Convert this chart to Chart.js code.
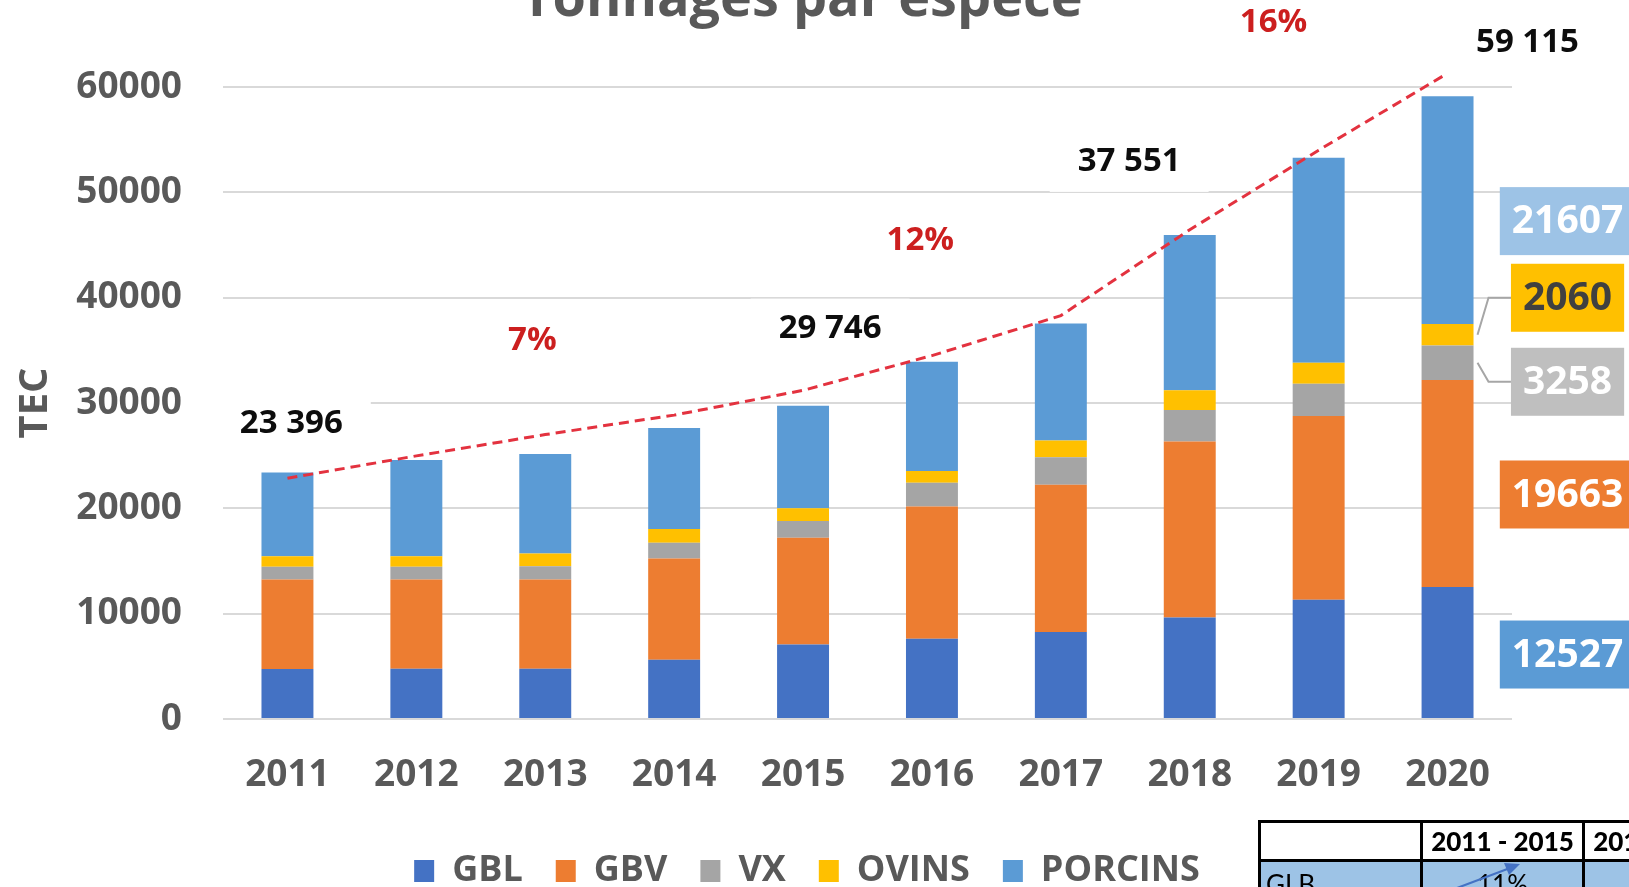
<!DOCTYPE html>
<html>
<head>
<meta charset="utf-8">
<title>Tonnages par espèce</title>
<script src="https://cdn.jsdelivr.net/npm/chart.js@4.4.1/dist/chart.umd.min.js"></script>
<style>
  body { margin: 0; background: #fff; overflow: hidden; }
  #wrap { position: relative; width: 1629px; height: 887px; overflow: hidden; }
  #c { position: absolute; left: 0; top: 0; }
  #tbl { position: absolute; left: 1258px; top: 820px; width: 486px; table-layout: fixed;
         border-collapse: collapse; font-family: Lato, sans-serif; color: #000; }
  #tbl td { border: 3px solid #000; height: 36px; padding: 0 5px; font-size: 26px;
            white-space: nowrap; overflow: hidden; }
  #tbl tr.h td { font-weight: 900; text-align: center; background: #fff; }
  #tbl tr.b td { background: #9dc3e6; vertical-align: top; padding-top: 6px; }
  #arrow { position: absolute; left: 1440px; top: 852px; }
</style>
</head>
<body>
<div id="wrap">
  <canvas id="c" width="1629" height="910"></canvas>
  <table id="tbl">
    <colgroup><col style="width:162px"><col style="width:162px"><col style="width:162px"></colgroup>
    <tr class="h"><td></td><td>2011 - 2015</td><td>2016 - 2020</td></tr>
    <tr class="b"><td>GLB</td><td style="text-align:center">11%</td><td></td></tr>
  </table>
  <svg id="arrow" width="100" height="40">
    <line x1="17" y1="36" x2="70" y2="16" stroke="#4472c4" stroke-width="2"/>
    <polygon points="80,12 64,11 69,23" fill="#4472c4"/>
  </svg>
</div>
<script>
const years = ['2011', '2012', '2013', '2014', '2015', '2016', '2017', '2018', '2019', '2020'];
const gbl = [4750, 4760, 4760, 5620, 7080, 7610, 8250, 9630, 11310, 12527];
const gbv = [8500, 8480, 8480, 9620, 10130, 12575, 13990, 16720, 17460, 19663];
const vx = [1200, 1210, 1270, 1490, 1590, 2240, 2610, 2985, 3060, 3258];
const ovins = [1000, 1010, 1210, 1300, 1210, 1120, 1600, 1865, 1980, 2060];
const porcins = [7946, 9140, 9430, 9590, 9736, 10370, 11101, 14740, 19480, 21607];
const trend = [22850, 24980, 27000, 28850, 31200, 34500, 38300, 46450, 54000, 61300];
const totalYears = ['2011', '2015', '2017', '2020'];
const growthLabels = ['7%', '12%', '16%'];

// where the annotations sit (category index, value)
const totalPos = [[0.03, 28050], [4.21, 37060], [6.53, 52890], [9.62, 64220]];
const growthPos = [[1.9, 35900], [4.91, 45400], [7.65, 66150]];

const seriesNames = ['GBL', 'GBV', 'VX', 'OVINS', 'PORCINS'];
const seriesData = [gbl, gbv, vx, ovins, porcins];
const colors = ['#4472c4', '#ed7d31', '#a5a5a5', '#ffc000', '#5b9bd5'];
const labelBoxColors = ['#5b9bd5', '#ed7d31', '#bfbfbf', '#ffc000', '#9dc3e6'];
const labelTextColors = ['#fff', '#fff', '#fff', '#404040', '#fff'];
const labelOffsets = [2, 11, 19, -37, 11];

const FONT = '"Open Sans", sans-serif';
const fmt = n => String(n).replace(/\B(?=(\d{3})+(?!\d))/g, ' ');
const totalOf = i => seriesData.reduce((s, d) => s + d[i], 0);

const datasets = seriesData.map((d, k) => ({
    type: 'bar',
    label: seriesNames[k],
    data: d,
    backgroundColor: colors[k],
    borderWidth: 0,
    categoryPercentage: 1,
    barPercentage: 0.403,
    order: 1
}));
datasets.push({
    type: 'line',
    label: 'tendance',
    data: trend,
    stack: 'trend',
    borderColor: '#e3323f',
    borderWidth: 3,
    borderDash: [10, 6],
    pointRadius: 0,
    tension: 0,
    fill: false,
    clip: false,
    order: 0
});

// move the legend to where the original sits
const legendShift = {
    id: 'legendShift',
    afterLayout(chart) {
        const l = chart.legend;
        l.left += 51;
        l.right += 51;
        l.top -= 11;
        l.bottom -= 11;
    }
};

const extras = {
    id: 'extras',
    afterDraw(chart) {
        const ctx = chart.ctx;
        const x = chart.scales.x, y = chart.scales.y;
        ctx.save();
        // title, cut by the top edge
        ctx.font = 'bold 54px ' + FONT;
        ctx.fillStyle = '#595959';
        ctx.textAlign = 'center';
        ctx.textBaseline = 'alphabetic';
        ctx.fillText('Tonnages par espèce', 802, 16);

        ctx.textBaseline = 'middle';
        ctx.font = 'bold 33px ' + FONT;
        const boxText = (txt, px, py, color) => {
            const w = ctx.measureText(txt).width;
            ctx.fillStyle = '#fff';
            ctx.fillRect(px - w / 2 - 28, py - 30, w + 56, 60);
            ctx.fillStyle = color;
            ctx.fillText(txt, px, py);
        };
        totalYears.forEach((yr, k) => {
            const txt = fmt(totalOf(years.indexOf(yr)));
            boxText(txt, x.getPixelForValue(totalPos[k][0]), y.getPixelForValue(totalPos[k][1]), '#0d0d0d');
        });
        growthLabels.forEach((txt, k) => {
            boxText(txt, x.getPixelForValue(growthPos[k][0]), y.getPixelForValue(growthPos[k][1]), '#cc1f1f');
        });

        // data labels of the last year
        const last = years.length - 1;
        ctx.font = 'bold 39px ' + FONT;
        seriesData.forEach((d, k) => {
            const bar = chart.getDatasetMeta(k).data[last];
            const mid = (bar.y + bar.base) / 2;
            const cy = mid + labelOffsets[k];
            const cx = bar.x + 120;
            const txt = String(d[last]);
            const w = ctx.measureText(txt).width + 24;
            if (Math.abs(labelOffsets[k]) > 15) {
                const right = bar.x + bar.width / 2;
                ctx.strokeStyle = '#a6a6a6';
                ctx.lineWidth = 2;
                ctx.beginPath();
                ctx.moveTo(right + 4, mid);
                ctx.lineTo(right + 15, cy);
                ctx.lineTo(cx - w / 2, cy);
                ctx.stroke();
            }
            ctx.fillStyle = labelBoxColors[k];
            ctx.fillRect(cx - w / 2, cy - 34, w, 68);
            ctx.fillStyle = labelTextColors[k];
            ctx.fillText(txt, cx, cy + 1);
        });
        ctx.restore();
    }
};

new Chart(document.getElementById('c'), {
    data: { labels: years, datasets: datasets },
    options: {
        responsive: false,
        animation: false,
        devicePixelRatio: 1,
        layout: { padding: { top: 87, right: 117, left: 0, bottom: 0 } },
        scales: {
            x: {
                stacked: true,
                grid: { display: false, drawTicks: false },
                border: { display: false },
                ticks: {
                    color: '#595959',
                    padding: 14,
                    font: { family: FONT, size: 37, weight: 'bold', lineHeight: 84 / 37 }
                }
            },
            y: {
                stacked: true,
                min: 0,
                max: 60000,
                afterFit(scale) { scale.width = 223; },
                grid: { color: '#d9d9d9', lineWidth: 2, drawTicks: false },
                border: { display: false },
                ticks: {
                    stepSize: 10000,
                    color: '#595959',
                    padding: 41,
                    callback: v => String(v),
                    font: { family: FONT, size: 37, weight: 'bold' }
                },
                title: {
                    display: true,
                    text: 'TEC',
                    color: '#595959',
                    padding: { top: 12, bottom: 10 },
                    font: { family: FONT, size: 40, weight: 'bold' }
                }
            }
        },
        plugins: {
            legend: {
                position: 'bottom',
                labels: {
                    filter: item => item.datasetIndex < seriesNames.length,
                    boxWidth: 20,
                    boxHeight: 22,
                    padding: 33,
                    color: '#595959',
                    font: { family: FONT, size: 36, weight: 'bold' }
                }
            },
            tooltip: { enabled: false }
        }
    },
    plugins: [legendShift, extras]
});
</script>
</body>
</html>
